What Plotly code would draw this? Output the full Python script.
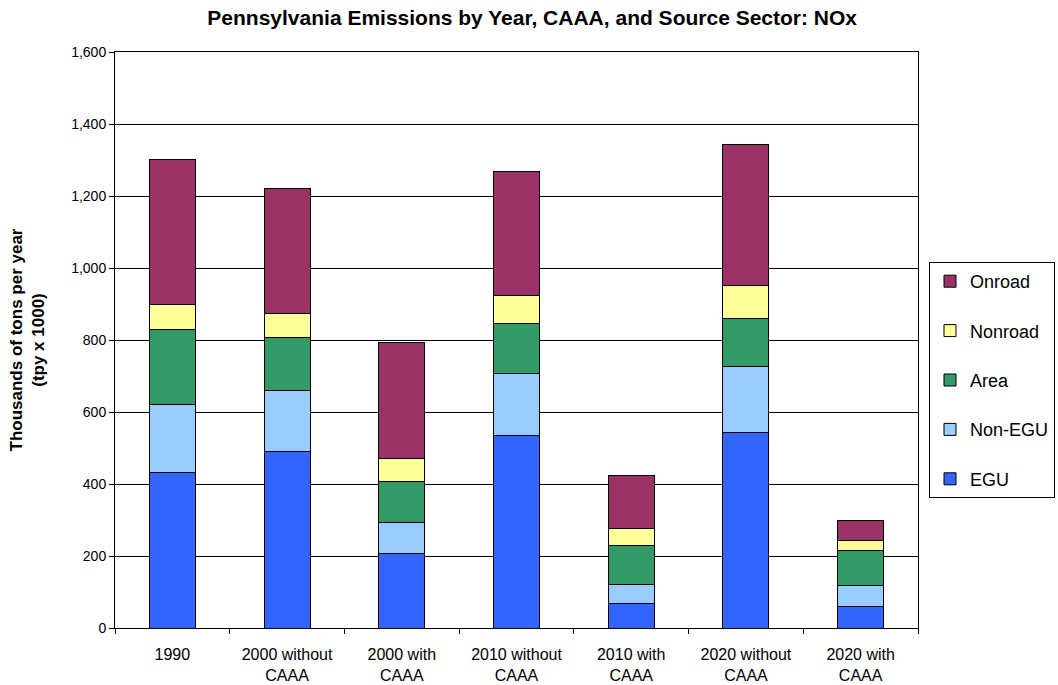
import plotly.graph_objects as go

categories = ["1990", "2000 without<br>CAAA", "2000 with<br>CAAA", "2010 without<br>CAAA",
              "2010 with<br>CAAA", "2020 without<br>CAAA", "2020 with<br>CAAA"]

# Thousands of tons per year, by source sector
egu = [433, 489, 207, 534, 68, 543, 61]
non_egu = [189, 171, 87, 172, 54, 184, 56]
area = [206, 146, 113, 139, 107, 133, 99]
nonroad = [72, 68, 65, 80, 48, 91, 26]
onroad = [401, 346, 322, 344, 148, 391, 57]

series = [
    ("EGU", egu, "#3366FF"),
    ("Non-EGU", non_egu, "#99CCFF"),
    ("Area", area, "#339966"),
    ("Nonroad", nonroad, "#FFFF99"),
    ("Onroad", onroad, "#993366"),
]

FONT = "Liberation Sans, Arial, sans-serif"

fig = go.Figure()
for i, (name, vals, color) in enumerate(series):
    fig.add_trace(go.Bar(
        x=categories, y=vals, name=name, legendgroup=name,
        legendrank=len(series) - i,
        marker=dict(color=color, line=dict(color="black", width=1)),
    ))

fig.update_layout(
    width=1058, height=685,
    barmode="stack", bargap=0.6,
    paper_bgcolor="white", plot_bgcolor="white",
    margin=dict(l=115, r=140, t=52, b=57),
    font=dict(family=FONT, color="black", size=15),
    title=dict(text="<b>Pennsylvania Emissions by Year, CAAA, and Source Sector: NOx</b>",
               x=0.503, xanchor="center", y=0.974, yanchor="middle",
               font=dict(size=21, family=FONT)),
    legend=dict(
        xref="container", yref="container",
        x=929 / 1058, xanchor="left", y=1 - 380 / 685, yanchor="middle",
        traceorder="grouped", tracegroupgap=23,
        bordercolor="black", borderwidth=1, bgcolor="white",
        font=dict(size=18, family=FONT),
    ),
    showlegend=True,
)

fig.update_xaxes(
    automargin=False,
    showline=True, linecolor="black", linewidth=1, mirror=True,
    ticks="outside", ticklen=5, tickcolor="black", tickson="boundaries",
    tickfont=dict(size=16), ticklabelstandoff=12,
)
fig.update_yaxes(
    automargin=False,
    range=[0, 1600], dtick=200, tickformat=",",
    showline=True, linecolor="black", linewidth=1, mirror=True,
    ticks="outside", ticklen=5, tickcolor="black",
    showgrid=True, gridcolor="black", gridwidth=1,
    tickfont=dict(size=14),
    title=dict(text="<b>Thousands of tons per year<br>(tpy x 1000)</b>",
               font=dict(size=17, family=FONT), standoff=22),
)

fig.write_html("out.html")
